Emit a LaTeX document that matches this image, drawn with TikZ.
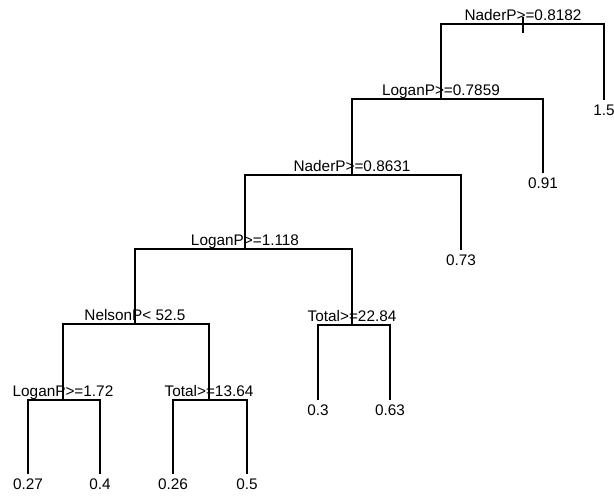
\documentclass[tikz,border=0pt]{standalone}
\usepackage{fontspec}
\setmainfont{Liberation Sans}
\begin{document}
\begin{tikzpicture}[x=0.75pt,y=-0.75pt,line width=1.1pt,
    split/.style={anchor=base,yshift=3pt,inner sep=0pt,font=\fontsize{11.5}{13}\selectfont},
    leaf/.style={anchor=north,inner xsep=0pt,inner ysep=3pt,font=\fontsize{11.5}{13}\selectfont}]
  \useasboundingbox (0,0) rectangle (614,496);

  % split points and their rules
  \coordinate (1) at (523,24);
  \coordinate (2) at (441,99);
  \coordinate (3) at (352,175);
  \coordinate (4) at (245,249);
  \coordinate (5) at (135,324);
  \coordinate (6) at (352,325);
  \coordinate (7) at (63,400);
  \coordinate (8) at (209,400);
  \node [split] (1t) at (1) {NaderP>=0.8182};
  \node [split] (2t) at (2) {LoganP>=0.7859};
  \node [split] (3t) at (3) {NaderP>=0.8631};
  \node [split] (4t) at (4) {LoganP>=1.118};
  \node [split] (5t) at (5) {NelsonP< 52.5};
  \node [split] (6t) at (6) {Total>=22.84};
  \node [split] (7t) at (7) {LoganP>=1.72};
  \node [split] (8t) at (8) {Total>=13.64};

  % fitted values
  \node [leaf] (a) at (604,100) {1.5};
  \node [leaf] (b) at (543,173) {0.91};
  \node [leaf] (c) at (461,250) {0.73};
  \node [leaf] (d) at (318,400) {0.3};
  \node [leaf] (e) at (390,400) {0.63};
  \node [leaf] (f) at (28,474) {0.27};
  \node [leaf] (g) at (100,474) {0.4};
  \node [leaf] (h) at (173,474) {0.26};
  \node [leaf] (i) at (247,474) {0.5};

  \coordinate (0a) at (523,17);
  \coordinate (0b) at (523,33);
  \draw (0a) -- (0b);
  \draw (1) -| (2);
  \draw (1) -| (a);
  \draw (2) -| (3);
  \draw (2) -| (b);
  \draw (3) -| (4);
  \draw (3) -| (c);
  \draw (4) -| (5);
  \draw (4) -| (6);
  \draw (6) -| (d);
  \draw (6) -| (e);
  \draw (5) -| (7);
  \draw (5) -| (8);
  \draw (7) -| (f);
  \draw (7) -| (g);
  \draw (8) -| (h);
  \draw (8) -| (i);
\end{tikzpicture}
\end{document}
